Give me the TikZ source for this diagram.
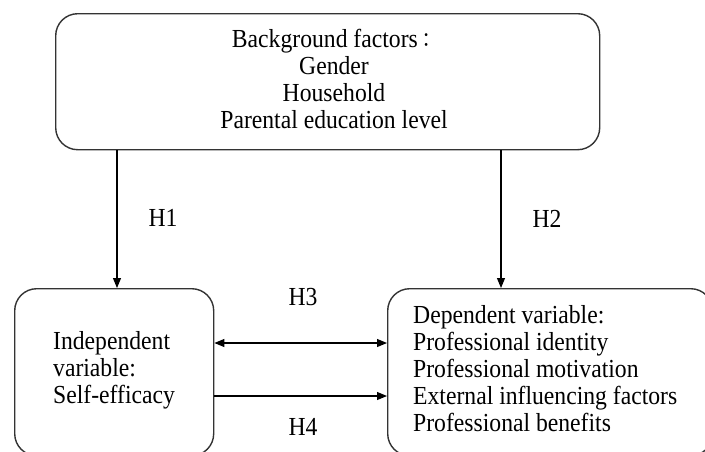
\documentclass[tikz,border=0pt]{standalone}
\usepackage{fontspec}
\setmainfont{Liberation Serif}[FakeStretch=0.91]
\newfontfamily\cjk{Noto Sans CJK TC}[FakeStretch=0.91]
\usetikzlibrary{arrows.meta, positioning}

\begin{document}
\begin{tikzpicture}[x=1pt, y=-1pt, >={Triangle[length=10pt,width=8pt]},
        khung/.style={draw=black!80, line width=1.4pt, rounded corners=22pt, anchor=north west, inner sep=0pt},
        muiten/.style={line width=1.1pt, ->},
        chu/.style={inner sep=0pt, font=\fontsize{26}{27}\selectfont}]
        \useasboundingbox (0,0) rectangle (705,451);
        \clip (0,0) rectangle (705,451);

        % Các khung
        \node[khung, minimum width=544pt, minimum height=136pt] (nen) at (55,13) {};
        \node[khung, minimum width=199pt, minimum height=167pt] (doclap) at (14,288) {};
        \node[khung, minimum width=325pt, minimum height=167pt] (phuthuoc) at (387,288) {};

        % Chữ trong khung
        \node[chu, align=center, anchor=north] (nenchu) at (334,29) {Background factors{\cjk\fontsize{20}{27}\selectfont ：}\\Gender\\Household\\Parental education level};
        \node[chu, align=left, anchor=north west] (doclapchu) at (53,331) {Independent\\variable:\\Self-efficacy};
        \node[chu, align=left, anchor=north west] (phuthuocchu) at (413,305) {Dependent variable:\\Professional identity\\Professional motivation\\External influencing factors\\Professional benefits};

        % Mũi tên
        \draw[muiten] (117,0 |- nen.south) -- (117,0 |- doclap.north);
        \draw[muiten] (501,0 |- nen.south) -- (501,0 |- phuthuoc.north);
        \draw[muiten, <->] (doclap.east |- 0,343) -- (phuthuoc.west |- 0,343);
        \draw[muiten] (doclap.east |- 0,396) -- (phuthuoc.west |- 0,396);

        % Nhãn
        \node[chu] (h1) at (163,218) {H1};
        \node[chu] (h2) at (547,219) {H2};
        \node[chu] (h3) at (303,297) {H3};
        \node[chu] (h4) at (303,427) {H4};
    \end{tikzpicture}
\end{document}
